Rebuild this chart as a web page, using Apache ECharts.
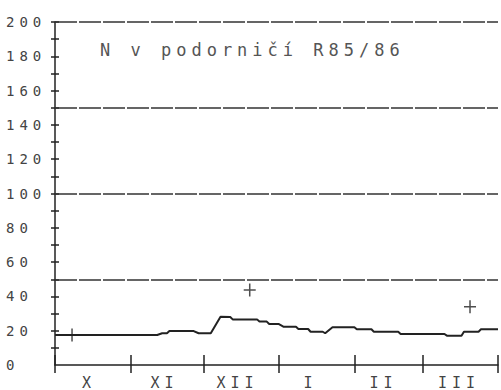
<!DOCTYPE html>
<html>
<head>
<meta charset="utf-8">
<script src="https://cdn.jsdelivr.net/npm/echarts@6/dist/echarts.min.js"></script>
<style>
  html, body { margin: 0; padding: 0; background: #fff; }
  #chart { width: 501px; height: 390px; }
  #chart text { letter-spacing: 5px; }
</style>
</head>
<body>
<div id="chart"></div>
<script>
// Days counted from 1 October (day 0) to 31 March (day 182)
const days   = [0, 42, 44, 46, 47, 57, 59, 64, 68, 72, 73, 83, 84, 87, 88, 92, 94, 99, 100, 104, 105, 110, 111, 114, 123, 124, 130, 131, 141, 142, 160, 161, 167, 168, 174, 175, 182];
const values = [17.5, 17.5, 18.5, 18.5, 19.8, 19.8, 18.5, 18.5, 28.2, 28, 26.6, 26.6, 25.3, 25.3, 23.9, 23.9, 22.3, 22.3, 21, 21, 19.4, 19.4, 18.5, 22, 22, 20.8, 20.8, 19.4, 19.4, 18.1, 18.1, 17.1, 17.1, 19.4, 19.4, 20.8, 20.8];

const plusDays   = [7, 80, 170.5];
const plusValues = [17.5, 43.7, 34];

const refLines = [50, 100, 150, 200];

const monthBounds    = [0, 31, 61, 92, 123, 151, 182];
const monthLabelDays = [14, 45, 75, 105, 135, 166];
const monthNames     = ['X', 'XI', 'XII', 'I', 'II', 'III'];

const yTickValues  = [10, 20, 30, 40, 50, 60, 70, 80, 90, 100, 110, 120, 130, 140, 150, 160, 170, 180, 190, 200];
const yLabelValues = [0, 20, 40, 60, 80, 100, 120, 140, 160, 180, 200];

const titleText = 'N v podorničí R85/86';

const ink = '#222';
const font = "'DejaVu Sans Mono', monospace";

const chart = echarts.init(document.getElementById('chart'), null, { renderer: 'svg' });

const plusPath = 'path://M5.25,0h1.5v5.25h5.25v1.5h-5.25v5.25h-1.5v-5.25h-5.25v-1.5h5.25z';

const option = {
  animation: false,
  backgroundColor: '#fff',
  title: {
    text: titleText,
    left: 100,
    top: 41,
    padding: 0,
    textStyle: { fontFamily: font, fontSize: 17, fontWeight: 'normal', color: '#555' }
  },
  grid: { left: 55, right: 3, top: 22, bottom: 25 },
  xAxis: [
    {
      type: 'value', min: 0, max: 182, position: 'bottom',
      axisLine: { show: true, lineStyle: { color: ink, width: 1.5 } },
      axisTick: { show: true, inside: false, length: 8, customValues: monthBounds, lineStyle: { color: ink, width: 1.5 } },
      axisLabel: {
        show: true, margin: 10, customValues: monthLabelDays,
        fontFamily: font, fontSize: 15, color: '#444',
        formatter: function (v) { const i = monthLabelDays.indexOf(Number(v)); return i >= 0 ? monthNames[i] : ''; }
      },
      splitLine: { show: false }
    },
    {
      type: 'value', min: 0, max: 182, position: 'bottom', offset: 0,
      axisLine: { show: false },
      axisTick: { show: true, inside: true, length: 10, customValues: monthBounds, lineStyle: { color: ink, width: 1.5 } },
      axisLabel: { show: false },
      splitLine: { show: false }
    }
  ],
  yAxis: [
    {
      type: 'value', min: 0, max: 200, position: 'left',
      axisLine: { show: true, lineStyle: { color: ink, width: 1.5 } },
      axisTick: { show: true, inside: false, length: 4, customValues: yTickValues, lineStyle: { color: ink, width: 1.5 } },
      axisLabel: {
        show: true, margin: 49, align: 'left', customValues: yLabelValues,
        fontFamily: font, fontSize: 14, color: '#444'
      },
      splitLine: { show: false }
    },
    {
      type: 'value', min: 0, max: 200, position: 'left', offset: 0,
      axisLine: { show: false },
      axisTick: { show: true, inside: true, length: 4, customValues: yTickValues, lineStyle: { color: ink, width: 1.5 } },
      axisLabel: { show: false },
      splitLine: { show: false }
    }
  ],
  series: [
    {
      type: 'line',
      xAxisIndex: 0, yAxisIndex: 0,
      data: days.map((d, i) => [d, values[i]]),
      symbol: 'none',
      lineStyle: { color: ink, width: 2 },
      markLine: {
        silent: true,
        symbol: ['none', 'none'],
        label: { show: false },
        lineStyle: { color: '#333', width: 1.5, type: [22, 2] },
        data: refLines.map(v => ({ yAxis: v }))
      },
      z: 3
    },
    {
      type: 'scatter',
      xAxisIndex: 0, yAxisIndex: 0,
      data: plusDays.map((d, i) => [d, plusValues[i]]),
      symbol: plusPath,
      symbolSize: [12, 13],
      itemStyle: { color: ink },
      z: 4
    }
  ]
};

chart.setOption(option);
</script>
</body>
</html>
